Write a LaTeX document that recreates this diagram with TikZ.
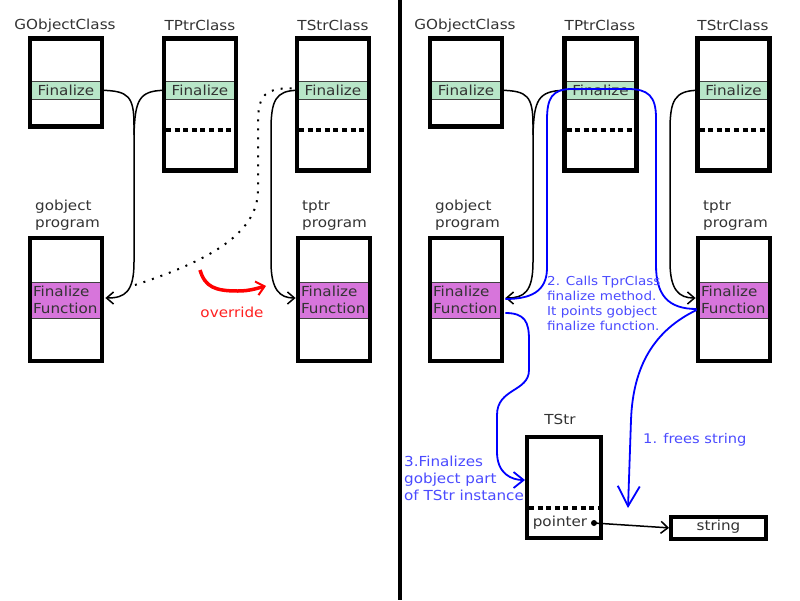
\documentclass[tikz,border=0pt]{standalone}
\usepackage{fontspec}
\setmainfont{DejaVu Sans}[FakeStretch=1.1]
\usetikzlibrary{arrows.meta}
\definecolor{txt}{HTML}{333333}
\definecolor{fgreen}{HTML}{B8E6C8}
\definecolor{fmag}{HTML}{D775DB}
\definecolor{bl}{HTML}{0000FF}
\definecolor{bltxt}{HTML}{4B4BFF}
\definecolor{redtxt}{HTML}{FF2020}
\begin{document}
\begin{tikzpicture}[x=1pt,y=-1pt,
  font=\fontsize{13.8}{17}\selectfont, text=txt,
  cbox/.style={draw=black, line width=4.2pt, minimum width=72pt, inner sep=0pt, outer sep=0pt},
  gband/.style={fill=fgreen, draw=black!75, line width=0.8pt, minimum width=72pt, minimum height=18pt, inner sep=0pt},
  mband/.style={fill=fmag, draw=black!75, line width=0.8pt, minimum width=72pt, minimum height=36pt, inner xsep=3pt, inner ysep=0pt, align=left, text width=66pt},
  conn/.style={draw=black, line width=1.5pt},
  tip/.style={-{Straight Barb[length=7pt,width=12pt]}},
  sepline/.style={draw=black, line width=3.5pt, dash pattern=on 5pt off 3.6pt},
  dotline/.style={draw=black, line width=2pt, dash pattern=on 2pt off 7pt},
  lbl/.style={inner sep=0pt},
  bnote/.style={text=bltxt, align=left, inner sep=0pt},
  bline/.style={draw=bl, line width=1.8pt},
  btip/.style={-{Straight Barb[length=10pt,width=16pt]}},
  bbtip/.style={-{Straight Barb[length=20pt,width=22pt]}},
  rline/.style={draw=red, line width=3.5pt, -{Straight Barb[length=8pt,width=14pt,line width=2pt]}}
]
\fill[white] (0,0) rectangle (800,600);
\useasboundingbox (0,0) rectangle (800,600);

% ---------------- left panel ----------------
\node[lbl] (l1) at (65,25.5) {GObjectClass};
\node[lbl] (l2) at (200,25.5) {TPtrClass};
\node[lbl] (l3) at (333,25.5) {TStrClass};
\node[lbl, anchor=base west] (l4a) at (35,210) {gobject};
\node[lbl, anchor=base west] (l4b) at (35,227) {program};
\node[lbl, anchor=base west] (l5a) at (302,210) {tptr};
\node[lbl, anchor=base west] (l5b) at (302,227) {program};

\node[gband] (gocf) at (66,90.3) {Finalize};
\node[gband] (tpcf) at (200,90.3) {Finalize};
\node[gband] (tscf) at (333,90.3) {Finalize};
\node[mband] (gpf) at (66,300) {Finalize\\Function};
\node[mband] (tpf) at (334,300) {Finalize\\Function};

\node[cbox, minimum height=88pt] (goc) at (66,82.5) {};
\node[cbox, minimum height=132pt] (tpc) at (200,104.5) {};
\node[cbox, minimum height=132pt] (tsc) at (333,104.5) {};
\node[cbox, minimum height=123pt] (gp) at (66,299.5) {};
\node[cbox, minimum height=123pt] (tp) at (334,299.5) {};

\draw[sepline, shorten <=2pt, shorten >=2pt] (tpc.west |- 0,130) -- (tpc.east |- 0,130);
\draw[sepline, shorten <=2pt, shorten >=2pt] (tsc.west |- 0,130) -- (tsc.east |- 0,130);

\coordinate (jl) at (134,135);
\draw[conn, tip] (gocf.east) .. controls (128,91) and (134,96) .. (134,125) -- (134,262) .. controls (134,292) and (125,298) .. ([shift={(3,-2)}]gpf.east);
\draw[conn] (tpcf.west) .. controls (139,91) and (135,100) .. (jl);
\draw[conn, tip] (tscf.west) .. controls (276,91) and (271,100) .. (271,130) -- (271,262) .. controls (271,290) and (280,298) .. ([shift={(-2,-2)}]tpf.west);
\coordinate (dend) at (135,285);
\draw[dotline] ([shift={(-5,-2)}]tscf.west) .. controls (262,88) and (258,98) .. (258,125) -- (258,190) .. controls (258,235) and (205,262) .. (dend);

\coordinate (ovs) at (200,270);
\coordinate (ove) at (266,286);
\draw[rline] (ovs) .. controls (205,287) and (215,291) .. (238,291) .. controls (250,291) and (258,288) .. (ove);
\node[lbl, text=redtxt] (ovl) at (232,312) {override};

% divider
\draw[line width=3.2pt] (400,0) -- (400,600);

% ---------------- right panel ----------------
\node[lbl] (r1) at (465,25.5) {GObjectClass};
\node[lbl] (r2) at (600,25.5) {TPtrClass};
\node[lbl] (r3) at (733,25.5) {TStrClass};
\node[lbl, anchor=base west] (r4a) at (435,210) {gobject};
\node[lbl, anchor=base west] (r4b) at (435,227) {program};
\node[lbl, anchor=base west] (r5a) at (703,210) {tptr};
\node[lbl, anchor=base west] (r5b) at (703,227) {program};

\node[gband] (gocf2) at (466,90.3) {Finalize};
\node[gband] (tpcf2) at (600.5,90.3) {Finalize};
\node[gband] (tscf2) at (733.5,90.3) {Finalize};
\node[mband] (gpf2) at (466,300) {Finalize\\Function};
\node[mband] (tpf2) at (734,300) {Finalize\\Function};

\node[cbox, minimum height=88pt] (goc2) at (466,82.5) {};
\node[cbox, minimum height=132pt] (tpc2) at (600.5,104.5) {};
\node[cbox, minimum height=132pt] (tsc2) at (733.5,104.5) {};
\node[cbox, minimum height=123pt] (gp2) at (466,299.5) {};
\node[cbox, minimum height=123pt] (tp2) at (734,299.5) {};

\draw[sepline, shorten <=2pt, shorten >=2pt] (tpc2.west |- 0,130) -- (tpc2.east |- 0,130);
\draw[sepline, shorten <=2pt, shorten >=2pt] (tsc2.west |- 0,130) -- (tsc2.east |- 0,130);

\coordinate (jr) at (533,135);
\draw[conn, tip] (gocf2.east) .. controls (527,91) and (533,96) .. (533,125) -- (533,262) .. controls (533,292) and (524,298) .. ([shift={(3,-2)}]gpf2.east);
\draw[conn] (tpcf2.west) .. controls (538,91) and (534,100) .. (jr);
\draw[conn, tip] (tscf2.west) .. controls (675,91) and (670,100) .. (670,130) -- (670,262) .. controls (670,290) and (679,298) .. ([shift={(-2,-2)}]tpf2.west);

% TStr and string
\node[lbl] (tstrl) at (560,419) {TStr};
\node[cbox, minimum width=74pt, minimum height=101pt] (tstr) at (564,487.5) {};
\draw[sepline, shorten <=2pt, shorten >=2pt] (tstr.west |- 0,508) -- (tstr.east |- 0,508);
\node[lbl] (ptrl) at (560,523) {pointer};
\node[cbox, minimum width=95pt, minimum height=22pt] (strb) at (718.5,528) {};
\node[lbl] (strl) at (718.5,527) {string};
\node[circle, fill=black, inner sep=0pt, minimum size=6pt] (pdot) at (594,523) {};
\draw[conn, tip, shorten >=2pt] (pdot.center) -- (strb.west);

% blue paths
\draw[bline] ([shift={(-1,9)}]tpf2.west) .. controls (668,309) and (656,295) .. (656,265) -- (656,118) .. controls (656,96) and (648,89) .. (628,89) -- (572,89) .. controls (552,89) and (547,98) .. (547,120) -- (547,268) .. controls (547,292) and (530,299) .. ([shift={(3,-1)}]gpf2.east);
\draw[bline, btip, shorten >=2pt] ([shift={(3,13)}]gpf2.east) .. controls (525,313) and (529,322) .. (529,340) -- (529,370) .. controls (529,392) and (497,388) .. (497,415) -- (497,452) .. controls (497,474) and (512,480) .. (tstr.west |- 0,480);
\coordinate (fe) at (628,508);
\draw[bline, bbtip] ([shift={(-1,10)}]tpf2.west) .. controls (655,330) and (633,365) .. (631,420) -- (fe);

\node[bnote, anchor=north west, font=\fontsize{12.3}{15}\selectfont] (n2) at (547,276) {2. Calls TprClass\\finalize method.\\It points gobject\\finalize function.};
\node[bnote, anchor=north west] (n3) at (404,456) {3.Finalizes\\gobject part\\of TStr instance};
\node[bnote, anchor=west, font=\fontsize{13.3}{17}\selectfont] (n1) at (643,440) {1. frees string};
\end{tikzpicture}
\end{document}
